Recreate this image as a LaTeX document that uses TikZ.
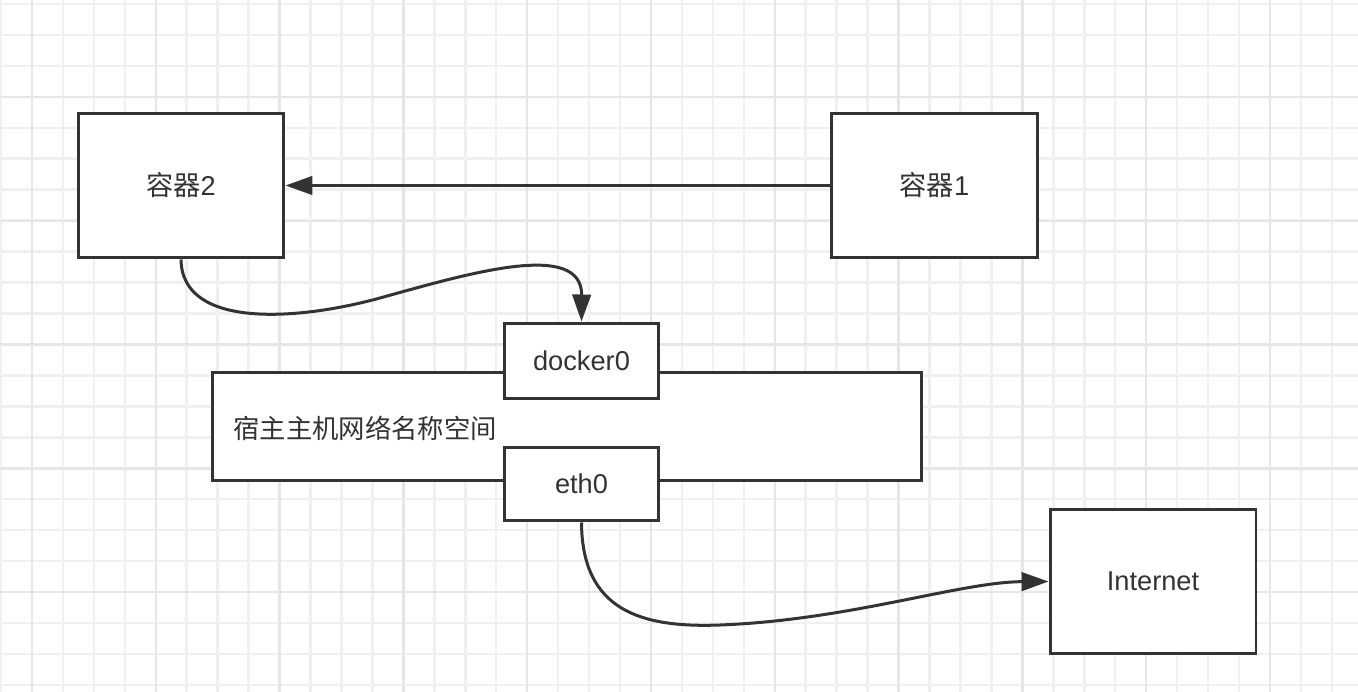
\documentclass[tikz,border=0pt]{standalone}
\usepackage{fontspec}
\setmainfont{Liberation Sans}
\newfontfamily\cjk{Noto Sans CJK SC}
\usetikzlibrary{arrows.meta}
\definecolor{ink}{HTML}{333333}
\definecolor{gridminor}{HTML}{F0F0F0}
\definecolor{gridmajor}{HTML}{E6E6E6}
\tikzset{
  box/.style={draw=ink, line width=0.06cm, fill=white, inner sep=0pt,
    font=\fontsize{15.5}{18}\selectfont, text=ink},
  conn/.style={draw=ink, line width=0.06cm,
    -{Triangle[length=0.54cm,width=0.37cm]}},
}
\begin{document}
\begin{tikzpicture}[x=0.02cm,y=-0.02cm]
\useasboundingbox (0,0) rectangle (1358,692);
\fill[white] (0,0) rectangle (1358,692);
% grid
\begin{scope}
\clip (0,0) rectangle (1358,692);
\foreach \i in {0,...,44} {
  \draw[gridminor, line width=0.05cm] ({1+30.95*\i},0) -- ({1+30.95*\i},692);
}
\foreach \i in {0,...,22} {
  \draw[gridminor, line width=0.05cm] (0,{4+30.95*\i}) -- (1358,{4+30.95*\i});
}
\foreach \i in {0,...,10} {
  \draw[gridmajor, line width=0.05cm] ({32+123.8*\i},0) -- ({32+123.8*\i},692);
}
\foreach \i in {0,...,5} {
  \draw[gridmajor, line width=0.05cm] (0,{-26.8+123.8*\i}) -- (1358,{-26.8+123.8*\i});
}
\end{scope}
% nodes
\node[box, minimum width=4.12cm, minimum height=2.9cm] (c2) at (181,185.5) {{\cjk 容器}2};
\node[box, minimum width=4.14cm, minimum height=2.9cm] (c1) at (934.5,185.5) {{\cjk 容器}1};
\node[box, minimum width=14.2cm, minimum height=2.18cm] (host) at (567,426.5) {};
\node[anchor=west, inner sep=0pt, text=ink, font=\fontsize{15}{18}\cjk] (hostlabel) at (233,428) {宿主主机网络名称空间};
\node[box, minimum width=3.1cm, minimum height=1.52cm] (d0) at (581.5,361) {docker0};
\node[box, minimum width=3.1cm, minimum height=1.48cm] (e0) at (581.5,484) {eth0};
\node[box, minimum width=4.12cm, minimum height=2.9cm] (inet) at (1153,581.5) {Internet};
% connectors
\draw[conn] (c1.west) -- (c2.east);
\draw[conn] (c2.south) .. controls (182,330) and (300,320) .. (380,298)
  .. controls (470,273) and (582,240) .. (d0.north);
\draw[conn] (e0.south) .. controls (582,610) and (640,628) .. (720,625)
  .. controls (850,620) and (960,582) .. (inet.west);
\end{tikzpicture}
\end{document}
